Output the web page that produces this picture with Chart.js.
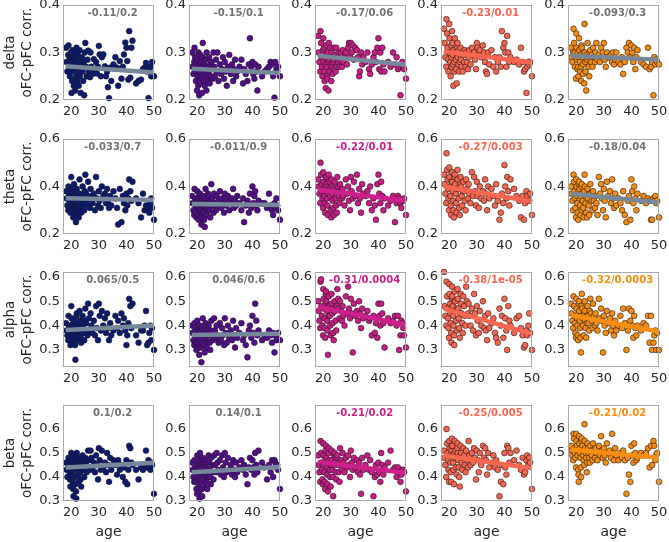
<!DOCTYPE html>
<html><head><meta charset="utf-8">
<script src="https://cdn.jsdelivr.net/npm/chart.js@4.4.0/dist/chart.umd.min.js"></script>
<style>
html,body{margin:0;padding:0;background:#fff;}
#fig{position:relative;width:669px;height:542px;overflow:hidden;background:#fff;}
#fig canvas{position:absolute;}
</style></head><body><div id="fig"></div>
<script>
// ---------------- data ----------------
const ages = [18.1,18.3,18.6,18.9, 19.0,19.2,19.4,19.5,19.7,19.9, 20.0,20.1,20.3,20.4,20.5,20.7,20.8,20.9,
  21.0,21.1,21.3,21.4,21.5,21.7,21.8,21.9, 22.0,22.2,22.4,22.5,22.7,22.9, 23.0,23.1,23.3,23.4,23.6,23.8,23.9,
  24.1,24.3,24.5,24.7,24.9, 25.1,25.4,25.6,25.9, 26.1,26.4,26.8, 27.0,27.3,27.7, 28.2,28.6, 29.0,29.3,29.7,
  30.0,30.3,30.7, 31.1,31.6, 32.2,32.6, 33.0,33.3,33.7, 34.1,34.5, 35.3, 36.0,36.6, 37.0,37.6, 38.2,38.7,
  39.1,39.6, 40.0,40.3,40.7, 41.0,41.4,41.8, 42.2, 43.5, 44.4, 45.3, 46.0,46.6, 47.1,47.5, 48.0,48.3,48.7, 49.0,49.3, 50.0];

const bands = ['delta','theta','alpha','beta'];
const yAxisLabel = 'oFC-pFC corr.';
const xAxisLabel = 'age';
const xRange = [17, 50];
const xTicks = [20,30,40,50];
const yRanges = [[0.2,0.4],[0.2,0.6],[0.23,0.62],[0.3,0.7]];
const yTicks = [[0.2,0.3,0.4],[0.2,0.4,0.6],[0.3,0.4,0.5,0.6],[0.3,0.4,0.5,0.6]];

const delta1 = [.31,.28,.26,.295, .315,.27,.29,.25,.285,.30, .26,.215,.24,.28,.305,.275,.29,.23, .265,.30,.245,.22,.285,.27,.255,.31, .28,.24,.295,.26,.23,.27, .305,.25,.265,.215,.285,.275,.29, .26,.24,.28,.21,.30, .32,.27,.25,.285,
  .304,.26,.248, .30,.27,.255, .286,.262, .28,.256,.27, .314,.296,.25, .29,.296, .271,.25, .26,.227,.204, .268,.24, .275, .29,.268, .23,.282, .245,.27, .296,.321, .31,.282,.243, .345,.247,.31, .325, .235, .24, .243, .265,.268, .278,.26, .204,.265,.27, .25,.28, .25];
const delta2 = [.30,.27,.255,.28, .31,.29,.26,.24,.275,.22, .285,.25,.23,.30,.265,.21,.275,.245, .26,.295,.235,.28,.25,.215,.27,.29, .32,.255,.24,.275,.23,.26, .285,.265,.22,.30,.25,.27,.24, .26,.29,.235,.275,.25, .28,.265,.245,.30,
  .27,.25,.285, .26,.30,.24, .275,.255, .265,.29,.245, .28,.26,.23, .27,.295, .255,.275, .24,.265,.285, .25,.26, .27, .285,.235, .265,.255, .24,.275, .33,.27, .28,.255,.245, .275,.26,.22, .27, .25, .26, .265, .27,.28, .275,.25, .205,.28,.265, .26,.27, .25];
const delta3 = [.335,.30,.28,.26, .345,.32,.29,.27,.25,.305, .33,.28,.31,.26,.24,.295,.275,.225, .315,.29,.27,.25,.245,.30,.28,.22, .32,.285,.26,.31,.275,.24, .30,.27,.29,.255,.28,.31,.265, .285,.295,.26,.31,.27, .29,.28,.30,.27,
  .285,.30,.27, .305,.28,.29, .30,.275, .31,.32,.29, .32,.30,.315, .285,.31, .305,.29, .25,.26,.30, .275,.29, .28, .30,.265, .255,.275, .29,.30, .28,.31, .33,.265,.30, .26,.31,.275, .26, .28, .27, .30, .275,.29, .265,.27, .21,.275,.28, .27,.265, .245];
const delta4 = [.35,.32,.29,.27, .37,.34,.31,.285,.26,.30, .36,.33,.30,.28,.25,.315,.29,.27, .345,.32,.295,.275,.23,.305,.28,.26, .33,.30,.285,.265,.235,.31, .32,.29,.275,.305,.26,.28,.295, .31,.285,.27,.30,.26, .295,.28,.305,.27,
  .30,.28,.265, .29,.305,.275, .31,.295, .30,.285,.265, .32,.31,.295, .305,.29, .315,.30, .28,.26,.255, .30,.275, .305, .27,.29, .26,.28, .29,.27, .345,.31, .32,.30,.27, .335,.30,.28, .29, .28, .285, .275, .31,.28, .26,.265, .215,.27,.28, .275,.28, .25];
const delta5 = [.31,.29,.28,.30, .35,.32,.30,.27,.29,.245, .34,.31,.285,.265,.30,.27,.25,.29, .33,.305,.28,.26,.295,.27,.24,.315, .31,.29,.275,.255,.30,.235, .36,.30,.28,.26,.22,.295,.285, .32,.29,.27,.25,.30, .305,.28,.295,.27,
  .31,.29,.28, .30,.32,.285, .295,.28, .31,.29,.30, .32,.285,.27, .30,.29, .29,.295, .28,.30,.275, .285,.30, .28, .275,.29, .255,.28, .31,.30, .32,.29, .315,.30,.28, .31,.265,.29, .305, .28, .275, .27, .31,.265, .27,.28, .21,.29,.275, .285,.28, .275];

const theta1 = [.38,.35,.32,.30, .40,.37,.34,.31,.29,.36, .44,.39,.35,.32,.30,.27,.37,.33, .41,.38,.34,.31,.28,.25,.36,.30, .39,.36,.33,.30,.27,.35, .43,.37,.34,.31,.29,.35,.32, .40,.36,.33,.30,.38, .45,.37,.34,.32,
  .42,.35,.31, .39,.36,.33, .37,.30, .44,.35,.32, .38,.34,.31, .40,.36, .37,.33, .39,.34,.31, .36,.32, .38, .35,.31, .24,.39, .25,.36, .33,.30, .37,.32,.35, .43,.38,.34, .42, .35, .33, .27, .37,.30, .32,.31, .30,.29,.33, .35,.31, .26];
const theta2 = [.36,.33,.30,.28, .39,.35,.32,.29,.27,.34, .38,.34,.31,.28,.26,.36,.30,.33, .37,.33,.30,.27,.24,.35,.32,.29, .36,.32,.29,.26,.23,.34, .39,.35,.31,.28,.33,.30,.37, .36,.33,.30,.27,.34, .41,.35,.32,.29,
  .37,.33,.30, .36,.32,.34, .38,.31, .35,.33,.29, .37,.32,.34, .36,.30, .33,.35, .39,.31,.34, .32,.36, .33, .30,.35, .25,.32, .34,.29, .37,.31, .40,.33,.36, .38,.32,.30, .34, .33, .33, .31, .37,.32, .30,.28, .33,.31,.35, .32,.30, .26];
const theta3 = [.43,.40,.37,.33, .50,.45,.41,.38,.35,.31, .46,.42,.39,.36,.33,.29,.40,.44, .44,.41,.38,.35,.32,.28,.40,.37, .45,.42,.39,.36,.30,.27, .43,.40,.37,.34,.31,.39,.28, .42,.38,.35,.32,.29, .44,.40,.36,.33,
  .41,.38,.35, .39,.36,.32, .43,.37, .40,.34,.30, .44,.38,.35, .42,.36, .45,.33, .39,.35,.29, .41,.37, .36, .38,.33, .40,.30, .35,.32, .26,.41, .45,.37,.33, .42,.36,.30, .35, .32, .34, .36, .25,.33, .36,.35, .33,.31,.34, .34,.35, .28];
const theta4 = [.45,.41,.37,.33, .54,.47,.43,.39,.35,.30, .48,.44,.40,.36,.32,.28,.42,.46, .46,.42,.38,.34,.30,.27,.40,.44, .45,.41,.37,.33,.29,.39, .47,.43,.39,.35,.31,.28,.41, .44,.40,.36,.32,.38, .42,.38,.34,.30,
  .43,.39,.35, .41,.37,.33, .46,.36, .44,.38,.32, .42,.36,.31, .40,.35, .38,.34, .43,.37,.30, .40,.35, .39, .36,.32, .41,.34, .26,.29, .37,.33, .49,.40,.35, .44,.38,.32, .43, .39, .36, .34, .27,.36, .26,.33, .38,.36,.34, .34,.37, .28];
const theta5 = [.40,.37,.34,.30, .45,.42,.38,.35,.31,.27, .43,.40,.36,.33,.29,.26,.38,.41, .42,.39,.35,.32,.28,.36,.40,.30, .41,.37,.34,.31,.27,.38, .45,.40,.36,.33,.29,.35,.27, .39,.35,.32,.28,.37, .41,.37,.34,.30,
  .38,.34,.31, .36,.33,.28, .44,.37, .41,.35,.30, .39,.34,.27, .42,.36, .38,.33, .43,.35,.31, .37,.32, .35, .33,.30, .38,.28, .25,.34, .36,.26, .43,.38,.33, .40,.35,.30, .37, .34, .36, .33, .35,.34, .26,.26, .35,.34,.36, .33,.34, .27];

const alpha1 = [.41,.38,.36,.34, .44,.40,.37,.35,.32,.39, .48,.43,.39,.36,.33,.41,.38,.35, .42,.38,.35,.32,.26,.40,.37,.44, .45,.41,.37,.34,.39,.36, .46,.42,.38,.35,.33,.40,.37, .44,.40,.37,.34,.42, .47,.41,.38,.36,
  .49,.43,.38, .45,.40,.37, .42,.36, .48,.39,.34, .49,.44,.38, .46,.40, .43,.37, .45,.39,.34, .41,.36, .38, .44,.39, .42,.37, .45,.40, .43,.38, .32,.36,.41, .51,.48,.39, .49, .36, .33, .38, .38,.40, .46,.32, .33,.37,.40, .34,.39, .30];
const alpha2 = [.40,.37,.34,.32, .41,.38,.35,.33,.30,.36, .42,.39,.36,.33,.31,.28,.38,.35, .40,.37,.34,.31,.25,.39,.36,.33, .43,.38,.35,.32,.29,.37, .41,.37,.34,.31,.36,.39,.33, .40,.36,.33,.30,.38, .42,.37,.34,.35,
  .43,.38,.35, .40,.36,.33, .41,.34, .39,.36,.32, .43,.37,.33, .40,.35, .38,.34, .42,.36,.31, .39,.35, .37, .41,.34, .36,.32, .27,.38, .40,.35, .44,.37,.33, .49,.42,.36, .38, .34, .36, .35, .38,.36, .33,.37, .29,.36,.34, .35,.37, .34];
const alpha3 = [.50,.46,.42,.39, .58,.59,.48,.44,.40,.36, .55,.51,.47,.43,.39,.35,.49,.53, .54,.50,.46,.42,.38,.28,.48,.44, .52,.48,.44,.40,.36,.47, .53,.49,.45,.41,.37,.34,.46, .50,.46,.42,.38,.48, .55,.51,.47,.43,
  .50,.46,.42, .48,.44,.40, .52,.45, .56,.47,.43, .51,.45,.29, .49,.44, .46,.42, .50,.45,.39, .47,.43, .44, .46,.42, .43,.36, .44,.37, .41,.35, .49,.44,.40, .49,.45,.41, .31, .43, .41, .42, .44,.40, .44,.30, .36,.42,.41, .39,.36, .31];
const alpha4 = [.62,.48,.44,.40, .58,.52,.47,.43,.39,.35, .57,.53,.49,.45,.41,.37,.33,.51, .56,.52,.48,.44,.40,.36,.32,.50, .54,.50,.46,.42,.38,.47, .55,.51,.47,.43,.39,.35,.45, .53,.49,.45,.41,.37, .52,.48,.44,.40,
  .56,.50,.45, .49,.44,.40, .47,.38, .53,.45,.36, .48,.42,.37, .46,.40, .50,.39, .44,.38,.34, .45,.39, .41, .43,.37, .35,.33, .47,.40, .44,.35, .51,.43,.38, .30,.48,.42, .40, .37, .43, .44, .39,.36, .31,.32, .38,.36,.40, .45,.37, .30];
const alpha5 = [.49,.45,.42,.39, .52,.48,.44,.41,.37,.35, .51,.47,.43,.40,.36,.34,.45,.49, .50,.46,.42,.39,.35,.29,.44,.48, .53,.47,.43,.40,.36,.45, .50,.46,.42,.39,.35,.44,.41, .48,.44,.41,.38,.46, .51,.45,.42,.39,
  .49,.44,.40, .45,.41,.38, .51,.43, .47,.42,.29, .44,.40,.37, .46,.41, .43,.38, .45,.40,.36, .42,.38, .40, .44,.39, .47,.41, .30,.38, .47,.42, .46,.40,.35, .44,.39,.36, .40, .38, .41, .40, .44,.33, .44,.30, .33,.36,.38, .30,.37, .30];

const beta1 = [.46,.43,.40,.44, .48,.45,.42,.39,.36,.47, .50,.47,.44,.41,.38,.35,.32,.49, .49,.46,.43,.40,.37,.34,.31,.45, .50,.47,.44,.41,.38,.46, .48,.45,.42,.39,.36,.47,.44, .49,.46,.43,.40,.45, .48,.45,.42,.47,
  .51,.47,.43, .51,.48,.44, .46,.42, .49,.45,.39, .52,.47,.43, .51,.44, .46,.42, .50,.45,.38, .48,.43, .47, .45,.41, .47,.43, .45,.40, .44,.38, .47,.37,.43, .53,.52,.46, .45, .43, .39, .44, .43,.45, .51,.44, .47,.44,.43, .46,.45, .33];
const beta2 = [.46,.43,.40,.38, .47,.44,.41,.38,.35,.33, .49,.46,.43,.40,.37,.34,.31,.45, .50,.47,.44,.41,.38,.35,.32,.42, .48,.45,.42,.39,.36,.44, .47,.44,.41,.38,.35,.43,.40, .49,.46,.43,.40,.37, .48,.45,.42,.39,
  .49,.45,.42, .50,.46,.43, .47,.41, .49,.44,.40, .50,.46,.42, .48,.43, .45,.41, .47,.43,.40, .46,.42, .44, .47,.43, .45,.41, .37,.44, .48,.43, .47,.44,.41, .50,.45,.42, .51, .46, .44, .39, .45,.42, .47,.40, .47,.46,.44, .45,.43, .35];
const beta3 = [.49,.45,.42,.38, .55,.50,.46,.43,.39,.37, .54,.49,.45,.42,.38,.35,.47,.51, .53,.48,.44,.41,.37,.34,.46,.50, .52,.47,.43,.40,.36,.45, .51,.47,.43,.40,.32,.45,.49, .50,.46,.42,.39,.48, .49,.45,.42,.38,
  .52,.47,.43, .50,.46,.42, .48,.44, .49,.45,.40, .51,.46,.43, .48,.44, .47,.42, .46,.41,.33, .48,.43, .45, .49,.43, .47,.42, .32,.40, .45,.41, .46,.42,.38, .50,.45,.41, .44, .46, .51, .43, .44,.40, .44,.42, .38,.41,.43, .43,.42, .34];
const beta4 = [.51,.48,.45,.40, .60,.54,.50,.47,.43,.38, .55,.52,.49,.46,.42,.38,.51,.53, .56,.53,.49,.46,.43,.37,.50,.48, .55,.51,.48,.44,.41,.52, .54,.50,.47,.44,.40,.36,.49, .53,.50,.46,.43,.48, .52,.49,.45,.42,
  .51,.47,.44, .55,.49,.45, .50,.46, .52,.48,.39, .51,.47,.42, .50,.45, .53,.48, .52,.47,.41, .50,.44, .46, .49,.44, .47,.43, .32,.38, .45,.37, .50,.44,.41, .53,.52,.46, .50, .47, .51, .45, .43,.48, .41,.42, .47,.49,.45, .48,.46, .35];
const beta5 = [.53,.51,.49,.47, .58,.56,.52,.50,.48,.44, .58,.55,.53,.51,.49,.43,.41,.38, .57,.54,.52,.50,.48,.44,.40,.55, .56,.53,.51,.49,.47,.45, .62,.55,.52,.50,.48,.42,.46, .54,.52,.50,.48,.46, .53,.51,.49,.47,
  .54,.51,.48, .52,.50,.47, .53,.49, .57,.51,.48, .52,.49,.46, .54,.50, .51,.48, .58,.50,.47, .52,.49, .47, .50,.48, .51,.47, .33,.48, .41,.38, .53,.49,.46, .54,.50,.47, .48, .50, .49, .50, .52,.44, .53,.45, .55,.53,.47, .49,.50, .38];

// regression line: [value at start age, value at 50]
const fitAges = [18, 50];
const fitDelta = [[0.271,0.258],[0.266,0.257],[0.293,0.274],[0.302,0.279],[0.293,0.285]];
const fitTheta = [[0.351,0.343],[0.326,0.322],[0.386,0.340],[0.400,0.337],[0.369,0.333]];
const fitAlpha = [[0.382,0.400],[0.361,0.366],[0.477,0.403],[0.470,0.366],[0.443,0.376]];
const fitBeta  = [[0.440,0.459],[0.420,0.442],[0.463,0.417],[0.490,0.436],[0.515,0.480]];

const statsDelta = ['-0.11/0.2','-0.15/0.1','-0.17/0.06','-0.23/0.01','-0.093/0.3'];
const statsTheta = ['-0.033/0.7','-0.011/0.9','-0.22/0.01','-0.27/0.003','-0.18/0.04'];
const statsAlpha = ['0.065/0.5','0.046/0.6','-0.31/0.0004','-0.38/1e-05','-0.32/0.0003'];
const statsBeta  = ['0.1/0.2','0.14/0.1','-0.21/0.02','-0.25/0.005','-0.21/0.02'];
const sigDelta = [0,0,0,1,0];
const sigTheta = [0,0,1,1,0];
const sigAlpha = [0,0,1,1,1];
const sigBeta  = [0,0,1,1,1];

// ---------------- drawing ----------------
const rowsData = [[delta1,delta2,delta3,delta4,delta5],[theta1,theta2,theta3,theta4,theta5],
                  [alpha1,alpha2,alpha3,alpha4,alpha5],[beta1,beta2,beta3,beta4,beta5]];
const rowsFit = [fitDelta, fitTheta, fitAlpha, fitBeta];
const rowsStats = [statsDelta, statsTheta, statsAlpha, statsBeta];
const rowsSig = [sigDelta, sigTheta, sigAlpha, sigBeta];

const FONT = '"DejaVu Sans", sans-serif';
const pointColors = ['#0a1a72','#520c8c','#c81c86','#f9654e','#f78c10'];
const sigColors   = ['#0a1a72','#520c8c','#cc218b','#fb6650','#fa8e12'];
const grayLine = '#76889a';
const grayText = '#737373';
const tickColor = '#262626';

const boxLeft = [63,189,315,441,568];
const boxTop = [5,139,272,405];
const boxW = 91;
const boxH = [95,95,95,96];

const panelDecor = {
  id: 'panelDecor',
  afterDraw(chart, args, opts) {
    const {ctx, chartArea: a, scales} = chart;
    ctx.save();
    ctx.strokeStyle = '#a8a8a8';
    ctx.lineWidth = 1;
    ctx.strokeRect(Math.round(a.left) + 0.5, Math.round(a.top) + 0.5,
                   Math.round(a.right - a.left) - 1, Math.round(a.bottom - a.top) - 1);
    ctx.font = 'bold 10px ' + FONT;
    ctx.fillStyle = opts.color;
    ctx.textAlign = 'center';
    ctx.textBaseline = 'middle';
    ctx.fillText(opts.text, scales.x.getPixelForValue(35), a.top + 8);
    ctx.restore();
  }
};

const fig = document.getElementById('fig');
for (let r = 0; r < 4; r++) {
  for (let c = 0; c < 5; c++) {
    const yw = c === 0 ? 63 : 38;
    const padTop = 10, padRight = 14;
    const xh = r === 3 ? 42 : 28;
    const cv = document.createElement('canvas');
    cv.width = yw + boxW + padRight;
    cv.height = padTop + boxH[r] + xh;
    cv.style.left = (boxLeft[c] - yw) + 'px';
    cv.style.top = (boxTop[r] - padTop) + 'px';
    fig.appendChild(cv);

    const vals = rowsData[r][c];
    const sig = rowsSig[r][c] === 1;
    const fit = rowsFit[r][c];
    new Chart(cv, {
      type: 'scatter',
      data: { datasets: [
        { type: 'line', data: fitAges.map((a, i) => ({x: a, y: fit[i]})),
          borderColor: sig ? sigColors[c] : grayLine, borderWidth: 4.5, pointRadius: 0,
          fill: false, clip: false, borderCapStyle: 'butt' },
        { type: 'scatter', data: ages.map((a, i) => ({x: a, y: vals[i]})),
          backgroundColor: pointColors[c], borderColor: '#1c1c1c', borderWidth: 0.6,
          pointRadius: 2.9, clip: false }
      ]},
      options: {
        responsive: false, animation: false, devicePixelRatio: 1,
        events: [],
        layout: { padding: { top: padTop, right: padRight, left: 0, bottom: 0 } },
        plugins: {
          legend: { display: false }, tooltip: { enabled: false },
          panelDecor: { text: rowsStats[r][c], color: sig ? sigColors[c] : grayText }
        },
        scales: {
          x: {
            type: 'linear', min: xRange[0], max: xRange[1],
            grid: { display: false, drawTicks: false }, border: { display: false },
            afterBuildTicks: s => { s.ticks = xTicks.map(v => ({value: v})); },
            afterFit: s => { s.height = xh; s.paddingLeft = 0; s.paddingRight = 0; },
            ticks: { font: { family: FONT, size: 13 }, color: tickColor, padding: 4,
                     maxRotation: 0, autoSkip: false, callback: v => String(v) },
            title: r === 3 ? { display: true, text: xAxisLabel, font: { family: FONT, size: 14 },
                               color: tickColor, padding: { top: 0, bottom: 2 } } : { display: false }
          },
          y: {
            type: 'linear', min: yRanges[r][0], max: yRanges[r][1],
            grid: { display: false, drawTicks: false }, border: { display: false },
            afterBuildTicks: s => { s.ticks = yTicks[r].map(v => ({value: v})); },
            afterFit: s => { s.width = yw; s.paddingTop = 0; s.paddingBottom = 0; },
            ticks: { font: { family: FONT, size: 13 }, color: tickColor, padding: 3,
                     autoSkip: false, callback: v => String(v) },
            title: c === 0 ? { display: true, text: [bands[r], yAxisLabel],
                               font: { family: FONT, size: 13.5, lineHeight: 1.25 }, color: tickColor,
                               padding: { top: 2, bottom: 0 } } : { display: false }
          }
        }
      },
      plugins: [panelDecor]
    });
  }
}
</script>
</body></html>
